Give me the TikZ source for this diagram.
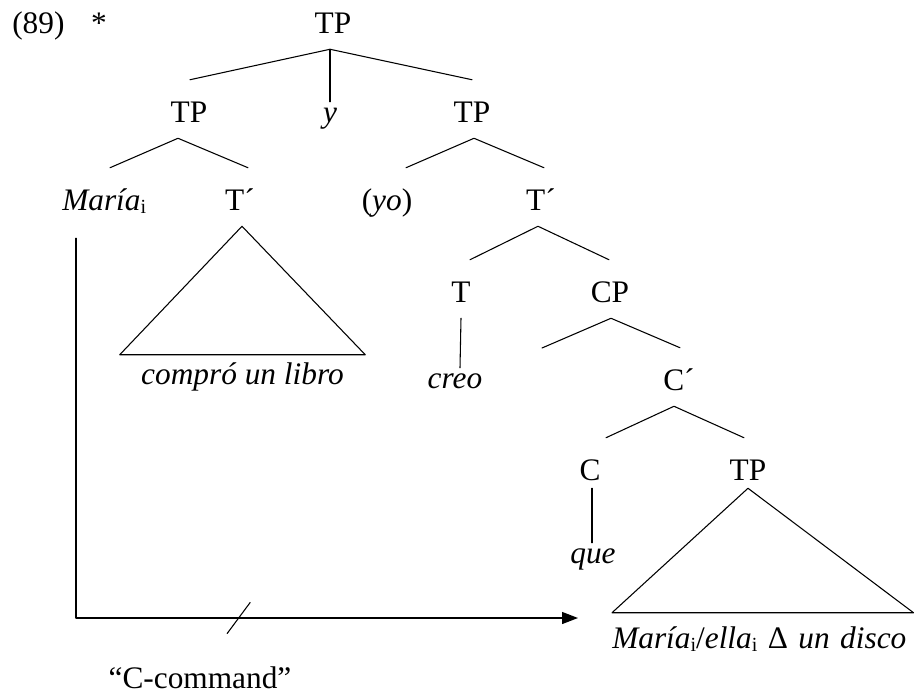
\documentclass[tikz,border=0pt]{standalone}
\usepackage{fontspec}
\setmainfont{Liberation Serif}
\usetikzlibrary{arrows.meta}
\newcommand{\idx}[1]{\raisebox{-2.5pt}{\fontsize{15pt}{15pt}\selectfont\upshape #1}}

\begin{document}
\begin{tikzpicture}[x=0.75pt, y=-0.75pt, font=\fontsize{23.5pt}{28pt}\selectfont, line join=round, line cap=round]
	\tikzset{
		cat/.style={anchor=base, inner sep=0pt, text height=31.5pt, text depth=12pt},
		leaf/.style={anchor=base, inner sep=0pt, text height=15pt, text depth=4pt, font=\fontsize{23.5pt}{28pt}\selectfont\itshape},
		br/.style={line width=0.8pt},
		cmd/.style={line width=1pt, -{Triangle[length=12pt,width=9pt]}}
	}
	\useasboundingbox (0,0) rectangle (915,697);
	% example number
	\node[anchor=base west, inner sep=0pt] (exnum) at (12,33) {(89)};
	\node[anchor=base, inner sep=0pt] (star) at (99,33) {*};
	% tree
	\node[cat] (tp0) at (333,33) {TP};
	\node[cat] (tp1) at (189,122) {TP};
	\node[leaf] (conj) at (330,122) {y};
	\node[cat] (tp2) at (472,122) {TP};
	\node[cat, anchor=base west] (mar) at (62,210) {\textit{María}\idx{i}};
	\node[cat] (tb1) at (240,210) {T´};
	\node[cat] (yo) at (387,210) {(\textit{yo})};
	\node[cat] (tb2) at (541,210) {T´};
	\node[cat] (tv) at (461,302) {T};
	\node[cat] (cp) at (610,302) {CP};
	\node[leaf] (creo) at (455,388) {creo};
	\node[cat] (cb) at (679,390) {C´};
	\node[cat] (cc) at (590,480) {C};
	\node[cat] (tp3) at (748,480) {TP};
	\node[leaf] (que) at (593,563) {que};
	\node[anchor=base, inner sep=0pt, minimum width=183.75pt, text height=21.75pt, font=\fontsize{23.5pt}{28pt}\selectfont\itshape] (lib) at (242.5,384) {compró un libro};
	\node[anchor=base west, inner sep=0pt, text width=225.75pt, align=left, text height=26.25pt] (disc) at (612,648) {\textit{María}\idx{i}/\textit{ella}\idx{i} Δ \textit{un disco}};
	\coordinate (spec) at (542,348);
	% branches
	\coordinate (tp0-a) at ([shift={(-3,0)}]tp0.south);
	\draw[br] ([shift={(1,0)}]tp1.north) -- (tp0-a) -- (tp2.north);
	\draw[br] (tp0-a) -- (conj.north);
	\draw[br] ([shift={(48,0)}]mar.north west) -- ([shift={(-11,0)}]tp1.south) -- ([shift={(8,0)}]tb1.north);
	\draw[br] ([shift={(19,0)}]yo.north) -- ([shift={(2,0)}]tp2.south) -- ([shift={(3,0)}]tb2.north);
	\draw[br] ([shift={(2,0)}]tb1.south) -- (lib.north west) -- (lib.north east) -- cycle;
	\draw[br] ([shift={(9,0)}]tv.north) -- ([shift={(-3,0)}]tb2.south) -- ([shift={(-1,0)}]cp.north);
	\draw[br] (tv.south) -- ([shift={(5,0)}]creo.north);
	\draw[br] (spec) -- ([shift={(1,0)}]cp.south) -- ([shift={(1,0)}]cb.north);
	\draw[br] ([shift={(16,0)}]cc.north) -- ([shift={(-5,0)}]cb.south) -- ([shift={(-4,0)}]tp3.north);
	\draw[br] ([shift={(2,-8)}]cc.south) -- ([shift={(-1,0)}]que.north);
	\draw[br] ([shift={(0,-8)}]tp3.south) -- (disc.north west) -- (disc.north east) -- cycle;
	% c-command arrow
	\coordinate (ccend) at (578,618);
	\draw[cmd] ([shift={(14,12)}]mar.south west) |- coordinate[pos=0.662] (neg) (ccend);
	\draw[br] ([shift={(-11.5,15.5)}]neg) -- ([shift={(11.5,-15.5)}]neg);
	\node[anchor=base, inner sep=0pt] (cmdlbl) at (200,688) {“C-command”};
\end{tikzpicture}
\end{document}
